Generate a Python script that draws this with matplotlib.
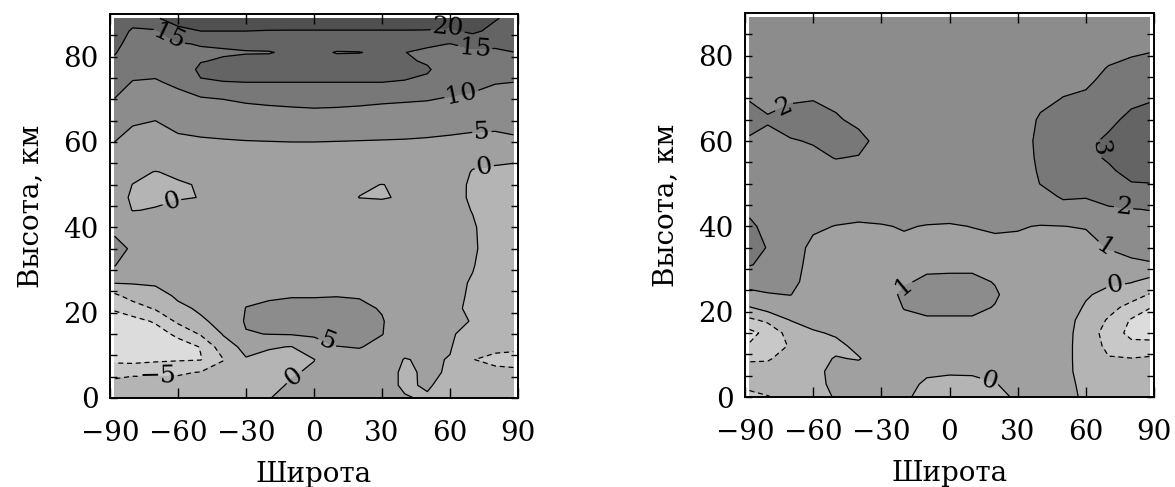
import numpy as np
import matplotlib
matplotlib.use("Agg")
import matplotlib.pyplot as plt

# grid of the field: latitude columns and altitude rows (km)
lats = [-88, -80, -70, -60, -50, -40, -30, -20, -10, 0, 10, 20, 30, 40, 50, 60, 70, 80, 88]
alts = [0, 3, 6, 9, 12, 15, 18, 21, 24, 27, 31, 35, 40, 44, 47, 50, 53, 56,
        60, 65, 70, 74, 77, 79, 81, 83, 86, 89]

# left panel: one altitude profile per latitude column
left_profiles = [
    [-4, -4.2, -5.8, -11.5, -14, -14, -12, -9.5, -6, 0.2, 5.1, 6, 4.3, 2, 1.5, 1.5, 2.2, 3.5, 5, 7.5, 9.9, 11.8, 13.2, 14.4, 15.3, 16, 17, 17.5],
    [-3.5, -4.3, -5.3, -12, -14, -13.5, -11.5, -7.5, -3, 0.3, 3, 4.6, 3.3, -0.1, -0.5, -0.05, 0.8, 2, 3.8, 5.4, 7.8, 9.8, 11.3, 12.2, 13, 13.6, 14.5, 16.5],
    [-3, -4, -5.5, -11, -13, -12, -9.5, -4.5, -1.5, 0.5, 2.5, 3, 2.2, 0.2, -0.6, -0.7, -0.1, 2.3, 3.5, 5, 7.4, 9.6, 11, 12, 12.8, 13.5, 14.4, 19.5],
    [-3, -3.5, -5.5, -10.5, -12, -9, -4, -0.8, 0.6, 1.3, 1.8, 2.2, 1.4, 0.8, -0.2, -0.3, 0.5, 2.6, 4.2, 6.2, 8.7, 10.8, 12.3, 13.2, 13.9, 14.6, 18.8, 22],
    [-3, -3.5, -4.8, -10.2, -9.8, -4.5, -0.5, 0.5, 1.2, 2, 2.2, 2, 1.6, 1.2, 0.05, 0.2, 1.5, 3.3, 4.4, 7, 9.3, 14.6, 15.8, 14.8, 14.3, 15.3, 20, 22.5],
    [-2.5, -3, -4, -5.1, -2, 0.3, 1, 1.8, 2.5, 2.8, 2.6, 2.3, 1.8, 1.5, 1.5, 1.6, 2.2, 3.4, 4.6, 7.5, 10, 14.9, 16.3, 15.4, 14.6, 15.5, 20, 23],
    [-2, -1.8, -1.3, -0.3, 1.2, 4.7, 5.5, 5.1, 4.2, 3.7, 3, 2.5, 2, 1.5, 1.5, 1.6, 2.3, 3.5, 4.8, 7.8, 10.5, 15, 16.5, 15.8, 14.8, 15.8, 20, 23],
    [-0.1, -1, -1.5, -1, 0.3, 5.1, 6, 5.6, 4.6, 3.9, 3.2, 2.6, 2.1, 1.6, 1.2, 1.4, 2.3, 3.6, 4.9, 8, 10.8, 15, 16.5, 16, 14.8, 16.2, 19.8, 23],
    [0.8, 0.4, -0.4, -1, -0.1, 5.3, 6.5, 6, 4.8, 4, 3.3, 2.7, 2.2, 1.6, 1.5, 1.6, 2.4, 3.6, 5, 8.2, 11, 15, 16.5, 16.3, 15.6, 16.6, 19.8, 22.5],
    [1, 1, 0.6, -0.1, 2.5, 5.8, 6.8, 6, 4.8, 4.1, 3.4, 2.8, 2.3, 1.6, 1.5, 1.6, 2.4, 3.6, 5, 8.3, 11.2, 15, 16.6, 16.6, 16, 17, 19.8, 22.5],
    [1.2, 1.5, 1.8, 3, 4.9, 6.8, 7, 6, 4.9, 4.2, 3.4, 2.8, 2.3, 1.6, 1.2, 1.4, 2.4, 3.6, 4.9, 8.2, 11.1, 15, 16.5, 16.2, 14.8, 16.5, 19.8, 22.5],
    [1.2, 1.5, 2, 3.5, 5.2, 6.5, 6.5, 5.6, 4.8, 4, 3.2, 2.7, 2.3, 1.4, -0.05, 0.4, 2.3, 3.4, 4.8, 8, 10.9, 15, 16.4, 16, 14.9, 16.4, 19.8, 22.5],
    [0.8, 1, 1.5, 2.5, 4, 5.1, 5.2, 4.8, 4, 3.3, 2.8, 2.5, 2.2, 1.2, -0.2, -0.05, 2.1, 3.4, 4.7, 7.8, 10.6, 15, 16.3, 16, 15.6, 16.3, 19.8, 22.5],
    [0.2, -0.4, -0.6, -0.2, 1.5, 3, 3.2, 3, 2.8, 2.5, 2.3, 2.2, 2, 1.3, 0.3, 0.4, 2, 3.3, 4.6, 7.6, 10.4, 14.8, 16, 15.5, 15.05, 15.8, 19.8, 22.5],
    [-0.3, 0.3, 0.5, 0.6, 0.8, 1, 1.2, 1.5, 1.5, 1.5, 1.5, 1.5, 1.5, 1.5, 1.5, 1.6, 2, 3.2, 4.4, 7.3, 10.2, 14.2, 15.4, 14.6, 14.4, 15.5, 19.8, 22],
    [-1.2, -1, -0.3, -0.2, 0.3, 0.4, 0.5, 0.6, 0.8, 1, 1.2, 1.3, 1.2, 1, 1, 1.3, 1.8, 3, 4.2, 6.7, 9.6, 12, 13, 13.6, 14.2, 14.95, 19.3, 22],
    [-1.8, -2, -3, -4.9, -3, -1.2, -0.1, -0.5, -0.4, -0.3, 0.2, 0.5, 0.3, -0.1, -0.4, -0.5, -0.2, 0.8, 4, 6.2, 9.1, 11.3, 12.5, 13.4, 14.2, 16.2, 21, 21.5],
    [-2.5, -3, -4, -6, -4, -3, -2.6, -2.4, -2.2, -2, -2, -1.7, -1.4, -1.1, -1, -0.9, -0.5, 0.5, 4, 6, 8.4, 10.2, 12, 13.3, 14.4, 15.7, 18.5, 20.4],
    [-3, -3.5, -4.5, -5.8, -4.5, -3.8, -3.5, -3.3, -3, -2.8, -2.6, -2.5, -2, -1.6, -1.3, -1, -0.6, 0.3, 4.4, 6.2, 8.2, 10, 12.2, 13.8, 14.95, 16, 17.5, 18.5],
]

# right panel: one altitude profile per latitude column
right_profiles = [
    [-1.2, -0.8, -0.7, -1.1, -1.9, -2.3, -1.2, -0.05, 0.8, 1.3, 2.05, 2.4, 2.2, 1.8, 1.7, 1.7, 1.75, 1.8, 1.9, 2.3, 1.95, 1.8, 1.7, 1.6, 1.6, 1.5, 1.5, 1.5],
    [-1.05, -0.6, -0.8, -1.05, -1.6, -1.7, -0.8, 0.4, 0.95, 1.3, 1.8, 1.95, 1.7, 1.6, 1.6, 1.6, 1.7, 1.8, 1.85, 2.05, 1.85, 1.7, 1.6, 1.55, 1.5, 1.5, 1.5, 1.5],
    [-0.7, -0.5, -0.6, -0.8, -0.9, -0.6, 0.02, 0.6, 1.02, 1.2, 1.3, 1.3, 1.4, 1.5, 1.5, 1.6, 1.7, 1.8, 1.95, 2.3, 1.9, 1.7, 1.6, 1.5, 1.5, 1.5, 1.5, 1.5],
    [-0.5, -0.4, -0.3, -0.25, -0.3, -0.1, 0.3, 0.5, 0.6, 0.7, 0.75, 0.85, 1.1, 1.4, 1.5, 1.6, 1.7, 1.85, 2.05, 2.4, 1.95, 1.7, 1.6, 1.5, 1.5, 1.5, 1.5, 1.5],
    [0.1, 0.3, 0.3, 0.05, -0.2, 0.1, 0.4, 0.55, 0.65, 0.7, 0.75, 0.8, 0.98, 1.3, 1.5, 1.6, 1.75, 2.02, 2.3, 2.1, 1.8, 1.6, 1.5, 1.5, 1.5, 1.5, 1.5, 1.5],
    [0.2, 0.3, 0.35, -0.05, 0.2, 0.4, 0.5, 0.6, 0.7, 0.75, 0.8, 0.85, 0.95, 1.15, 1.4, 1.6, 1.8, 1.95, 2.25, 1.8, 1.6, 1.5, 1.5, 1.5, 1.5, 1.5, 1.5, 1.5],
    [0.3, 0.35, 0.4, 0.4, 0.45, 0.5, 0.6, 0.7, 0.75, 0.75, 0.8, 0.85, 0.97, 1.2, 1.35, 1.45, 1.5, 1.6, 1.7, 1.55, 1.5, 1.5, 1.5, 1.5, 1.5, 1.5, 1.5, 1.5],
    [0.15, 0.3, 0.45, 0.55, 0.65, 0.75, 0.9, 1.02, 1.1, 0.95, 0.85, 0.9, 1.03, 1.2, 1.35, 1.45, 1.5, 1.5, 1.5, 1.5, 1.5, 1.5, 1.5, 1.5, 1.5, 1.5, 1.5, 1.5],
    [-0.3, -0.15, 0.15, 0.4, 0.6, 0.8, 0.95, 1.1, 1.2, 1.08, 0.9, 0.85, 0.98, 1.2, 1.35, 1.45, 1.5, 1.5, 1.5, 1.5, 1.5, 1.5, 1.5, 1.5, 1.5, 1.5, 1.5, 1.5],
    [-0.4, -0.2, 0.08, 0.4, 0.6, 0.8, 0.95, 1.1, 1.25, 1.1, 0.9, 0.85, 0.96, 1.2, 1.35, 1.45, 1.5, 1.5, 1.5, 1.5, 1.5, 1.5, 1.5, 1.5, 1.5, 1.5, 1.5, 1.5],
    [-0.35, -0.2, 0.1, 0.4, 0.6, 0.8, 0.95, 1.1, 1.2, 1.1, 0.9, 0.85, 1.01, 1.25, 1.4, 1.45, 1.5, 1.5, 1.5, 1.5, 1.5, 1.5, 1.5, 1.5, 1.5, 1.5, 1.5, 1.5],
    [-0.2, -0.03, 0.2, 0.4, 0.6, 0.75, 0.9, 0.98, 1.05, 0.98, 0.88, 0.9, 1.05, 1.3, 1.4, 1.5, 1.5, 1.5, 1.5, 1.5, 1.5, 1.5, 1.5, 1.5, 1.5, 1.5, 1.5, 1.5],
    [0.1, 0.2, 0.3, 0.4, 0.5, 0.6, 0.7, 0.75, 0.8, 0.8, 0.85, 0.9, 1.03, 1.25, 1.4, 1.5, 1.55, 1.6, 1.6, 1.55, 1.5, 1.5, 1.5, 1.5, 1.5, 1.5, 1.5, 1.5],
    [0.15, 0.2, 0.3, 0.4, 0.45, 0.5, 0.6, 0.65, 0.7, 0.75, 0.8, 0.85, 0.98, 1.3, 1.7, 2.02, 2.1, 2.15, 2.2, 2.1, 1.8, 1.65, 1.6, 1.55, 1.55, 1.55, 1.5, 1.5],
    [0.2, 0.25, 0.3, 0.35, 0.35, 0.35, 0.4, 0.5, 0.6, 0.7, 0.8, 0.9, 0.99, 1.7, 2.1, 2.3, 2.5, 2.6, 2.6, 2.4, 2.02, 1.8, 1.7, 1.65, 1.6, 1.55, 1.55, 1.55],
    [-0.1, -0.2, -0.4, -0.5, -0.5, -0.45, -0.35, -0.1, 0.1, 0.3, 0.5, 0.7, 1.05, 1.7, 2.05, 2.4, 2.6, 2.75, 2.8, 2.6, 2.15, 1.85, 1.7, 1.65, 1.6, 1.55, 1.55, 1.5],
    [-0.4, -0.6, -0.8, -0.95, -1.2, -1.4, -1.1, -0.7, -0.25, 0.15, 0.55, 1.05, 1.5, 1.9, 2.3, 2.6, 2.85, 3.1, 3.15, 2.8, 2.5, 2.25, 2.05, 1.9, 1.8, 1.7, 1.6, 1.55],
    [-0.6, -0.7, -0.85, -0.97, -1.7, -2.3, -2.1, -1.3, -0.6, 0.05, 0.8, 1.3, 1.7, 1.98, 2.4, 2.95, 3.3, 3.5, 3.5, 3.2, 2.8, 2.5, 2.2, 2.05, 1.9, 1.8, 1.7, 1.6],
    [-0.7, -0.75, -0.85, -0.9, -1.5, -2.6, -2.5, -1.95, -1.05, -0.3, 0.9, 1.4, 1.75, 2.02, 2.5, 2.98, 3.4, 3.6, 3.7, 3.4, 2.9, 2.6, 2.3, 2.1, 1.98, 1.85, 1.75, 1.7],
]

left_levels = [-20, -10, -5, 0, 5, 10, 15, 20, 30]
right_levels = [-4, -2, -1, 0, 1, 2, 3, 5]
grays = ["#dcdcdc", "#c8c8c8", "#b4b4b4", "#a0a0a0", "#8c8c8c", "#787878", "#646464", "#505050"]

# where the contour labels sit (lat, km)
left_label_pos = [(-65, 83.5), (59, 87.5), (71, 83), (65, 71.4), (74, 63.5), (75, 54.5),
                  (-64, 48.2), (6, 13.3), (-9, 5.1), (-69, 5.5)]
right_label_pos = [(-73, 68.2), (67, 58.4), (76.6, 44.3), (69, 35.3), (-20, 25.9),
                   (73, 26.3), (17.8, 4.3)]

plt.rcParams["font.family"] = ["DejaVu Serif"]
plt.rcParams["contour.negative_linestyle"] = (0, (4, 3))


def fmt(v):
    return f"{v:.0f}".replace("-", "\u2212")


def panel(ax, profiles, levels, line_levels, label_pos):
    z = np.array(profiles).T
    ax.contourf(lats, alts, z, levels=levels, colors=grays[:len(levels) - 1])
    cs = ax.contour(lats, alts, z, levels=line_levels, colors="k", linewidths=0.9)
    ax.clabel(cs, fmt=fmt, fontsize=18, inline=True, inline_spacing=2, manual=label_pos)
    ax.set_xlim(-90, 90)
    ax.set_ylim(0, 90)
    ax.set_xticks([-90, -60, -30, 0, 30, 60, 90])
    ax.set_yticks([0, 20, 40, 60, 80])
    ax.set_yticks(np.arange(5, 90, 5), minor=True)
    ax.tick_params(axis="both", which="both", direction="in", top=True, right=True,
                   labelsize=20, width=1)
    ax.tick_params(axis="x", length=7, pad=16)
    ax.tick_params(axis="y", which="both", length=5, pad=8)
    for s in ax.spines.values():
        s.set_linewidth(1.4)
    ax.set_xlabel("Широта", fontsize=20, labelpad=10)
    ax.set_ylabel("Высота, км", fontsize=20, labelpad=14)


fig = plt.figure(figsize=(11.75, 4.87), dpi=100)
ax1 = fig.add_axes([110 / 1175, 1 - 398 / 487, 408 / 1175, 384 / 487])
ax2 = fig.add_axes([745 / 1175, 1 - 397 / 487, 409 / 1175, 384 / 487])

panel(ax1, left_profiles, left_levels, [-10, -5, 0, 5, 10, 15, 20], left_label_pos)
panel(ax2, right_profiles, right_levels, [-2, -1, 0, 1, 2, 3], right_label_pos)

fig.savefig("out.png", dpi=100)
